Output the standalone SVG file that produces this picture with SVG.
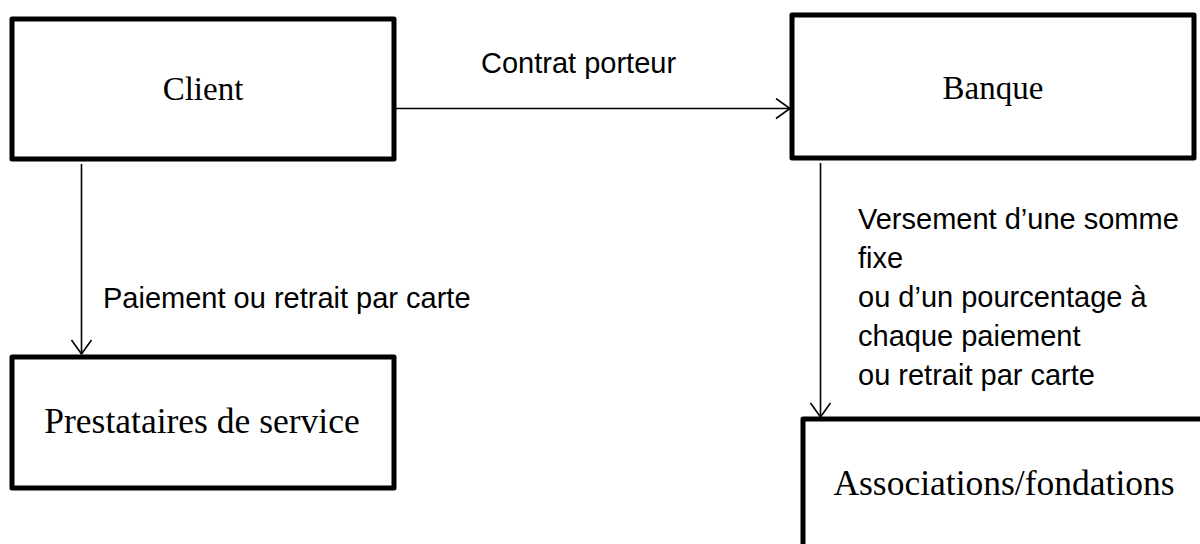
<svg xmlns="http://www.w3.org/2000/svg" width="1200" height="544" viewBox="0 0 1200 544">
<style>
.box{fill:#fff;stroke:#000;stroke-width:5;stroke-linejoin:round}
.serif{font-family:"Liberation Serif","Times New Roman",serif;font-size:33px;fill:#000;text-anchor:middle}
.big{font-size:35.5px}
.sans{font-family:"Liberation Sans",Arial,sans-serif;font-size:29px;fill:#000}
.conn{stroke:#000;stroke-width:1.6;fill:none}
</style>
<defs>
<marker id="arr" viewBox="0 0 16 22" refX="15" refY="11" markerWidth="16" markerHeight="22" markerUnits="userSpaceOnUse" orient="auto">
<path d="M1,1 L15,11 L1,21" fill="none" stroke="#000" stroke-width="1.6"/>
</marker>
</defs>
<rect width="1200" height="544" fill="#fff"/>
<g id="client">
<rect class="box" x="12" y="19" width="382" height="140"/>
<text class="serif" x="203" y="100">Client</text>
</g>
<g id="banque">
<rect class="box" x="792" y="15" width="402" height="143"/>
<text class="serif" x="993" y="99">Banque</text>
</g>
<g id="prestataires">
<rect class="box" x="12" y="357" width="382" height="131"/>
<text class="serif big" x="202" y="433">Prestataires de service</text>
</g>
<g id="associations">
<rect class="box" x="803" y="419" width="420" height="200"/>
<text class="serif big" x="1004" y="495">Associations/fondations</text>
</g>
<g id="connectors">
<line class="conn" x1="396" y1="108.5" x2="790" y2="108.5" marker-end="url(#arr)"/>
<line class="conn" x1="81.5" y1="164" x2="81.5" y2="354" marker-end="url(#arr)"/>
<line class="conn" x1="820.5" y1="163" x2="820.5" y2="417" marker-end="url(#arr)"/>
<text class="sans" x="481" y="73">Contrat porteur</text>
<text class="sans" x="103" y="308">Paiement ou retrait par carte</text>
<text class="sans" x="858">
<tspan x="858" y="229">Versement d’une somme</tspan>
<tspan x="858" y="268">fixe</tspan>
<tspan x="858" y="307">ou d’un pourcentage à</tspan>
<tspan x="858" y="346">chaque paiement</tspan>
<tspan x="858" y="385">ou retrait par carte</tspan>
</text>
</g>
</svg>
